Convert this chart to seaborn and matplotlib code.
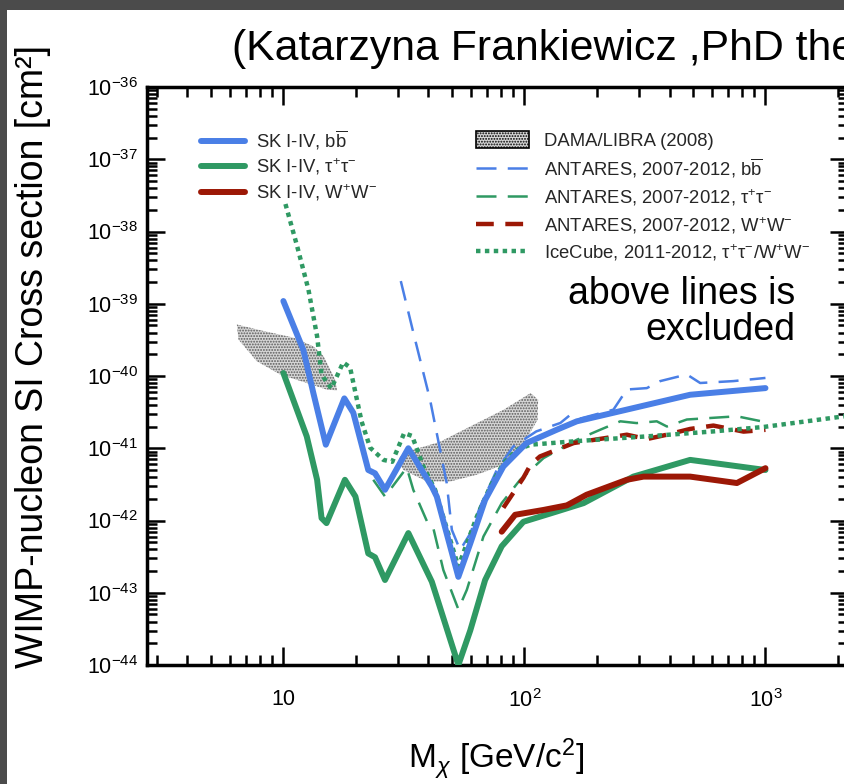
import numpy as np
import pandas as pd
import matplotlib
matplotlib.use("Agg")
import matplotlib.pyplot as plt
import seaborn as sns
from matplotlib.patches import Rectangle, Patch
from matplotlib.lines import Line2D
from matplotlib.ticker import LogLocator, NullFormatter

# ---------------- data ----------------
sk_bb_mass = [10, 12.1, 13.3, 15.0, 17.9, 19.5, 22.5, 24.0, 26.4, 33.0, 41.3, 43.3,
              53.2, 59.6, 68.7, 81.8, 102, 136, 165, 234, 487, 1000]
sk_bb_xs = [1.09e-39, 2.3e-40, 5.9e-41, 1.12e-41, 4.9e-41, 3.1e-41, 5.0e-42, 4.5e-42,
            2.66e-42, 1.0e-41, 2.95e-42, 2.14e-42, 1.66e-43, 4.8e-43, 1.93e-42, 5.6e-42,
            1.18e-41, 1.8e-41, 2.36e-41, 3.1e-41, 5.5e-41, 6.8e-41]

sk_tt_mass = [10, 12.5, 13.8, 14.4, 15.1, 18.0, 19.9, 22.5, 24.0, 26.4, 33.0, 41.3,
              53.2, 59.6, 68.7, 80.5, 99, 136, 176, 283, 487, 1000]
sk_tt_xs = [1.1e-40, 1.46e-41, 3.66e-42, 1.08e-42, 9.2e-43, 3.66e-42, 2.15e-42, 3.5e-43,
            3.1e-43, 1.5e-43, 6.7e-43, 1.42e-43, 1.0e-44, 3.0e-44, 1.5e-43, 4.4e-43,
            9.6e-43, 1.33e-42, 1.74e-42, 4.05e-42, 6.9e-42, 5.0e-42]

sk_ww_mass = [80.5, 91.5, 120, 150, 181, 266, 312, 487, 761, 1000]
sk_ww_xs = [7.0e-43, 1.2e-42, 1.4e-42, 1.62e-42, 2.27e-42, 3.66e-42, 4.05e-42, 4.05e-42,
            3.3e-42, 5.3e-42]

ant_bb_mass = [30.7, 34.6, 40.6, 47.6, 50, 54.1, 59.6, 65.5, 76.8, 90, 112, 141, 155,
               170, 234, 266, 322, 366, 472, 536, 736, 1000]
ant_bb_xs = [2.06e-39, 4.0e-40, 4.7e-41, 3.3e-42, 7.4e-43, 3.9e-43, 6.6e-43, 1.56e-42,
             5.0e-42, 1.06e-41, 1.71e-41, 2.24e-41, 2.9e-41, 2.57e-41, 3.42e-41, 6.5e-41,
             6.8e-41, 8.5e-41, 1.05e-40, 8.0e-41, 8.5e-41, 9.4e-41]

ant_tt_mass = [23.6, 26.4, 32.5, 34.6, 40.0, 41.9, 46.1, 53.2, 57.7, 67.6, 80.5, 96,
               120, 165, 206, 250, 292, 354, 390, 472, 761, 1000]
ant_tt_xs = [3.66e-42, 2.15e-42, 5.4e-42, 2.65e-42, 8.7e-43, 7.8e-43, 2.06e-43, 5.9e-44,
             1.1e-43, 6.0e-43, 1.74e-42, 3.66e-42, 7.3e-42, 1.31e-41, 1.8e-41, 2.36e-41,
             2.23e-41, 2.36e-41, 2.0e-41, 2.5e-41, 2.77e-41, 2.3e-41]

ant_ww_mass = [81.8, 99, 106, 116, 160, 266, 322, 390, 487, 608, 811, 1000]
ant_ww_xs = [1.5e-42, 3.9e-42, 5.9e-42, 7.7e-42, 1.18e-41, 1.54e-41, 1.34e-41, 1.54e-41,
             1.85e-41, 2.06e-41, 1.7e-41, 1.8e-41]

ice_mass = [10.2, 11.4, 12.7, 13.8, 14.4, 15.8, 17.7, 18.9, 21.1, 22.9, 26.0, 28.3,
            31.7, 34.2, 38.1, 42.6, 46.9, 53.2, 57.7, 63.4, 72.1, 81.8, 93, 106, 162,
            322, 608, 982, 2180]
ice_xs = [2.4e-38, 6.3e-39, 1.58e-39, 3.55e-40, 1.05e-40, 6.7e-41, 1.54e-40, 1.32e-40,
          2.36e-41, 1.02e-41, 6.9e-42, 6.5e-42, 1.62e-41, 1.48e-41, 5.6e-42, 2.66e-42,
          9.2e-43, 2.3e-43, 4.8e-43, 1.12e-42, 2.95e-42, 6.2e-42, 9.5e-42, 1.12e-41,
          1.25e-41, 1.46e-41, 1.71e-41, 1.97e-41, 2.8e-41]

dama1_mass = [6.41, 6.51, 7.76, 9.69, 12.5, 15.1, 16.7, 16.4, 14.7, 13.3, 11.0, 8.26]
dama1_xs = [5.16e-40, 3.2e-40, 1.6e-40, 1.05e-40, 8.0e-41, 6.5e-41, 6.3e-41, 8.9e-41,
            1.87e-40, 2.58e-40, 3.4e-40, 4.2e-40]

dama2_mass = [30.5, 29.9, 31.5, 39.4, 49.2, 63.4, 81.8, 96, 113.5, 114, 106, 81.8, 59.6,
              44.7, 34.6]
dama2_xs = [7.7e-42, 6.5e-42, 5.0e-42, 3.47e-42, 3.47e-42, 4.3e-42, 5.9e-42, 9.5e-42,
            2.5e-41, 4.7e-41, 5.8e-41, 3.4e-41, 2.0e-41, 1.23e-41, 9.5e-42]

x_tick_vals = [10, 100, 1000]
x_tick_labels = ["10", r"$10^{2}$", r"$10^{3}$"]
y_tick_vals = [1e-44, 1e-43, 1e-42, 1e-41, 1e-40, 1e-39, 1e-38, 1e-37, 1e-36]
y_tick_labels = [r"$10^{-44}$", r"$10^{-43}$", r"$10^{-42}$", r"$10^{-41}$", r"$10^{-40}$",
                 r"$10^{-39}$", r"$10^{-38}$", r"$10^{-37}$", r"$10^{-36}$"]

legend1_labels = [r"SK I-IV, b$\overline{\mathrm{b}}$", r"SK I-IV, τ$^{+}$τ$^{-}$",
                  r"SK I-IV, W$^{+}$W$^{-}$"]
legend2_labels = ["DAMA/LIBRA (2008)", r"ANTARES, 2007-2012, b$\overline{\mathrm{b}}$",
                  r"ANTARES, 2007-2012, τ$^{+}$τ$^{-}$",
                  r"ANTARES, 2007-2012, W$^{+}$W$^{-}$",
                  r"IceCube, 2011-2012, τ$^{+}$τ$^{-}$/W$^{+}$W$^{-}$"]

# ---------------- style ----------------
sns.set_style("ticks")
FONT = "Liberation Sans"
plt.rcParams["font.family"] = [FONT, "DejaVu Sans"]
plt.rcParams["mathtext.fontset"] = "custom"
plt.rcParams["mathtext.rm"] = FONT
plt.rcParams["mathtext.it"] = FONT + ":italic"
plt.rcParams["mathtext.bf"] = FONT + ":bold"
plt.rcParams["mathtext.sf"] = FONT
plt.rcParams["hatch.linewidth"] = 0.9

BLUE = "#4a7fe6"
GREEN = "#2f9963"
RED = "#9c1806"
DAMA_FACE = "#d6d6d6"
DAMA_DOT = "#5a5a5a"

W, H = 844, 784
fig = plt.figure(figsize=(W / 100, H / 100), dpi=100, facecolor="#4b4b4b")
fig.add_artist(Rectangle((7 / W, 0), 1, 1 - 10 / H, transform=fig.transFigure,
                         facecolor="white", edgecolor="none", zorder=0))

left_px, right_px, top_px, bot_px = 146.7, 848, 87, 665
ax = fig.add_axes([left_px / W, 1 - bot_px / H, (right_px - left_px) / W, (bot_px - top_px) / H])
ax.set_facecolor("white")
ax.set_xscale("log")
ax.set_yscale("log")
ax.set_xlim(2.71, 2200)
ax.set_ylim(1e-44, 1e-36)

# DAMA regions
for mm, ss in [(dama1_mass, dama1_xs), (dama2_mass, dama2_xs)]:
    ax.fill(mm, ss, facecolor=DAMA_FACE, edgecolor=DAMA_DOT, hatch="......", linewidth=0,
            zorder=1)


def draw(mass, xs, **kw):
    df = pd.DataFrame({"mass": mass, "xs": xs})
    sns.lineplot(data=df, x="mass", y="xs", ax=ax, estimator=None, sort=False,
                 legend=False, zorder=3, **kw)


draw(ant_bb_mass, ant_bb_xs, color=BLUE, lw=1.8, linestyle=(0, (8, 4.5)))
draw(ant_tt_mass, ant_tt_xs, color=GREEN, lw=1.8, linestyle=(0, (8, 4.5)))
draw(ant_ww_mass, ant_ww_xs, color=RED, lw=3.2, linestyle=(0, (4, 2.6)))
draw(ice_mass, ice_xs, color=GREEN, lw=3.2, linestyle=(0, (1, 1)))
draw(sk_tt_mass, sk_tt_xs, color=GREEN, lw=4.3)
draw(sk_ww_mass, sk_ww_xs, color=RED, lw=4.3)
draw(sk_bb_mass, sk_bb_xs, color=BLUE, lw=4.3)

# axes styling
for s in ax.spines.values():
    s.set_linewidth(2.5)
    s.set_color("black")
ax.set_xticks(x_tick_vals, labels=x_tick_labels)
ax.set_yticks(y_tick_vals, labels=y_tick_labels)
ax.xaxis.set_minor_locator(LogLocator(base=10, subs=np.arange(2, 10) * 1.0, numticks=60))
ax.yaxis.set_minor_locator(LogLocator(base=10, subs=np.arange(2, 10) * 1.0, numticks=60))
ax.xaxis.set_minor_formatter(NullFormatter())
ax.yaxis.set_minor_formatter(NullFormatter())
ax.tick_params(which="both", direction="in", top=True, right=True, color="black",
               width=1.8, labelsize=15.5, labelcolor="black")
ax.tick_params(which="major", length=13)
ax.tick_params(which="minor", length=7)
ax.tick_params(axis="x", which="major", pad=17)
ax.tick_params(axis="y", which="major", pad=6)
ax.set_xlabel("")
ax.set_ylabel("")

# legends
LFS = 13.3
h1 = [Line2D([], [], color=c, lw=4.3) for c in (BLUE, GREEN, RED)]
leg1 = ax.legend(h1, legend1_labels, loc="upper left", frameon=False, fontsize=LFS,
                 bbox_to_anchor=(200.5 / W, 1 - 128 / H), bbox_transform=fig.transFigure,
                 borderpad=0, borderaxespad=0, handlelength=2.43, handletextpad=0.6,
                 labelspacing=0.28)
ax.add_artist(leg1)
h2 = [Patch(facecolor=DAMA_FACE, edgecolor="black", hatch="......", linewidth=1.2),
      Line2D([], [], color=BLUE, lw=1.8, linestyle=(0, (8, 4.5))),
      Line2D([], [], color=GREEN, lw=1.8, linestyle=(0, (8, 4.5))),
      Line2D([], [], color=RED, lw=3.2, linestyle=(0, (4, 2.6))),
      Line2D([], [], color=GREEN, lw=3.2, linestyle=(0, (1, 1)))]
leg2 = ax.legend(h2, legend2_labels, loc="upper left", frameon=False, fontsize=LFS,
                 bbox_to_anchor=(476 / W, 1 - 130.5 / H), bbox_transform=fig.transFigure,
                 borderpad=0, borderaxespad=0, handlelength=2.86, handleheight=1.1,
                 handletextpad=0.8, labelspacing=0.38)

# texts
fig.text(232 / W, 1 - 60 / H, "(Katarzyna Frankiewicz ,PhD thesis)", fontsize=30.8,
         family=[FONT, "DejaVu Sans"], ha="left", va="baseline", color="black")
fig.text(33 / W, 1 - 356 / H, "WIMP-nucleon SI Cross section [cm²]", fontsize=27,
         family=[FONT, "DejaVu Sans"], rotation=90, ha="center", va="center", color="black")
fig.text(496 / W, 1 - 760 / H, r"M$_{χ}$ [GeV/c$^{2}$]", fontsize=24, ha="center",
         va="center", color="black")
fig.text(795 / W, 1 - 311.5 / H, "above lines is\nexcluded", fontsize=27,
         family=[FONT, "DejaVu Sans"], ha="right", va="center", multialignment="right",
         linespacing=1.0, color="black")

fig.savefig("out.png", dpi=100, facecolor=fig.get_facecolor())
